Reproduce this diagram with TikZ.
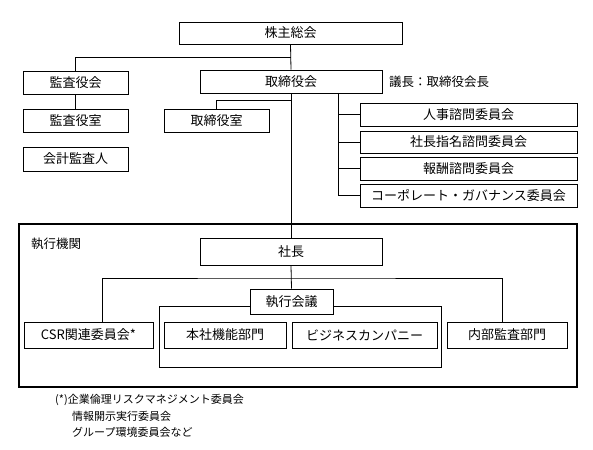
\documentclass[tikz,border=0pt]{standalone}
\usepackage{fontspec}
\setmainfont{Noto Sans CJK JP}
\begin{document}
\begin{tikzpicture}[x=1pt,y=-1pt,
  box/.style={draw,fill=white,line width=0.8pt,inner sep=0pt,font=\fontsize{13}{15}\selectfont},
  conn/.style={line width=0.8pt},
  note/.style={inner sep=0pt,anchor=west,font=\fontsize{11}{13}\selectfont}]
\useasboundingbox (0,0) rectangle (593,449);
% top part
\node[box,minimum width=223pt,minimum height=22pt] (kabu) at (290.5,33) {株主総会};
\node[box,minimum width=105pt,minimum height=23pt] (kansa) at (75.5,82.5) {監査役会};
\node[box,minimum width=105pt,minimum height=23pt] (kansashitsu) at (75.5,120.5) {監査役室};
\node[box,minimum width=105pt,minimum height=24pt] (kaikei) at (75.5,159) {会計監査人};
\node[box,minimum width=182pt,minimum height=23pt] (tori) at (291,81.5) {取締役会};
\node[inner sep=0pt,anchor=west,font=\fontsize{12.5}{14}\selectfont] (gicho) at (389,82) {議長：取締役会長};
\node[box,minimum width=105pt,minimum height=23pt] (torishitsu) at (216.5,120.5) {取締役室};
\node[box,minimum width=217pt,minimum height=23pt] (c1) at (468.5,114.5) {人事諮問委員会};
\node[box,minimum width=217pt,minimum height=22pt] (c2) at (468.5,142) {社長指名諮問委員会};
\node[box,minimum width=217pt,minimum height=23pt] (c3) at (468.5,168.5) {報酬諮問委員会};
\node[box,minimum width=217pt,minimum height=23pt] (c4) at (468.5,195.5) {コーポレート・ガバナンス委員会};
\coordinate (j1) at (291,57);
\coordinate (j2) at (291,100);
\coordinate (ctrunk) at (338,93);
\draw[conn] (kabu.south) -- (tori.north);
\draw[conn] (kansa.north) |- (j1);
\draw[conn] (kansa.south) -- (kansashitsu.north);
\draw[conn] (torishitsu.north) |- (j2);
\draw[conn] (ctrunk) |- (c4.west);
\draw[conn] (c1.west) -- (c1.west -| ctrunk);
\draw[conn] (c2.west) -- (c2.west -| ctrunk);
\draw[conn] (c3.west) -- (c3.west -| ctrunk);
% executive part
\draw[line width=2pt] (19,224) rectangle (577,387);
\node[inner sep=0pt,anchor=west,font=\fontsize{12.5}{14}\selectfont] (shikkoukikan) at (31,244) {執行機関};
\node[box,minimum width=182pt,minimum height=27pt] (shacho) at (291,251.5) {社長};
\draw[conn] (tori.south) -- (shacho.north);
\draw[conn] (159,306) rectangle (441,367);
\node[box,minimum width=83pt,minimum height=25pt] (kaigi) at (291.5,301.5) {執行会議};
\node[box,minimum width=129pt,minimum height=26pt] (csr) at (88.5,335) {CSR関連委員会*};
\node[box,minimum width=122pt,minimum height=26pt] (honsha) at (225,335) {本社機能部門};
\node[box,minimum width=145pt,minimum height=26pt] (biz) at (364.5,335) {ビジネスカンパニー};
\node[box,minimum width=120pt,minimum height=26pt] (naibu) at (507,335) {内部監査部門};
\coordinate (j3) at (291,278);
\draw[conn] (shacho.south) -- (kaigi.north);
\draw[conn] ([xshift=13.5pt]csr.north) |- (j3) -| ([xshift=-5pt]naibu.north);
% footnote
\node[note] (n1) at (55,400) {(*)企業倫理リスクマネジメント委員会};
\node[note] (n2) at (72,416) {情報開示実行委員会};
\node[note] (n3) at (72,432) {グループ環境委員会など};
\end{tikzpicture}
\end{document}
